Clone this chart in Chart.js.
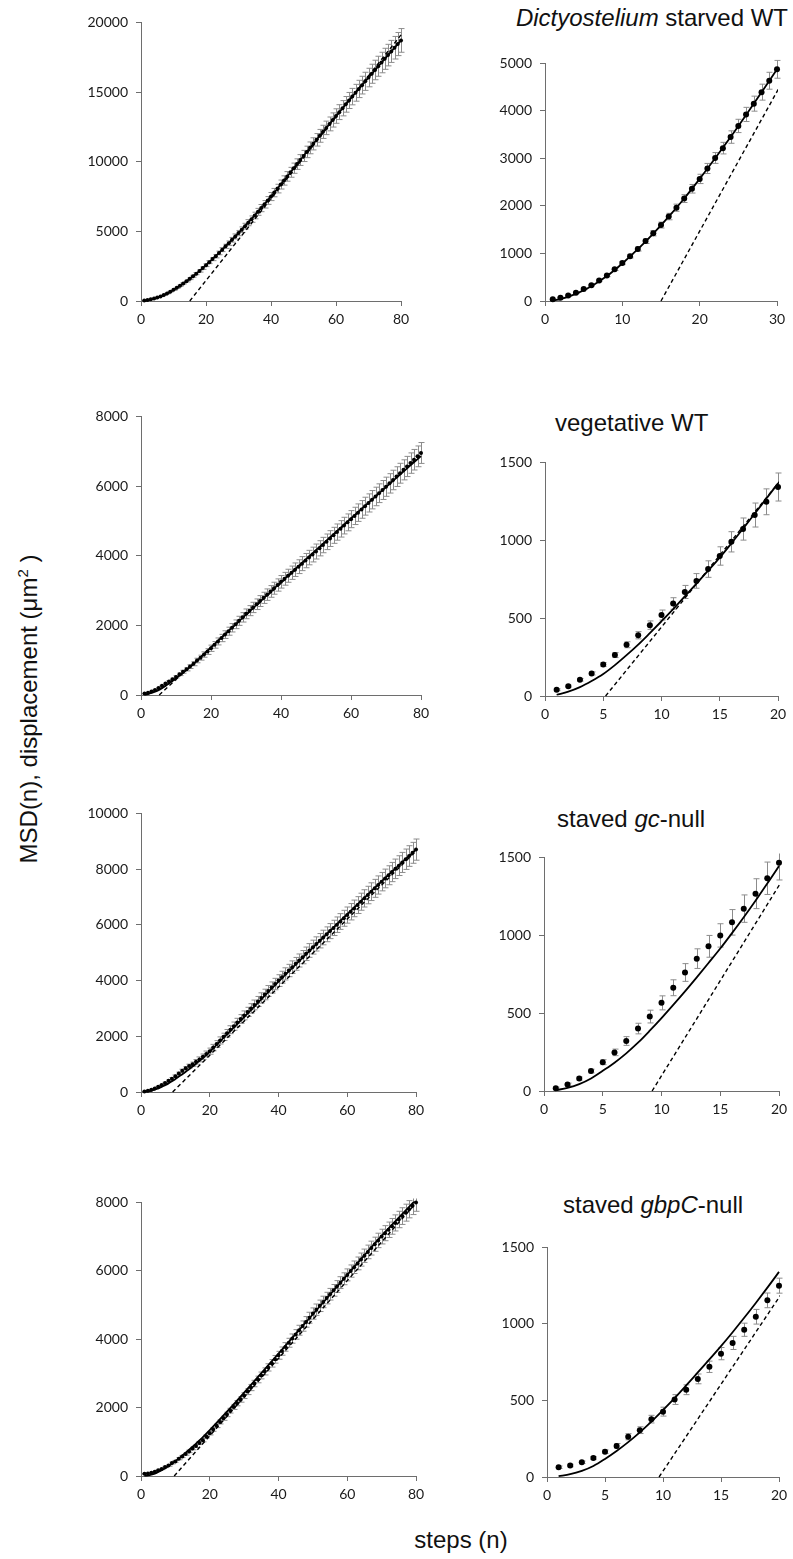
<!DOCTYPE html>
<html lang="en">
<head>
<meta charset="UTF-8">
<title>MSD(n) vs steps</title>
<script src="https://cdn.jsdelivr.net/npm/chart.js"></script>
<style>
    body {
        margin: 0;
        width: 793px;
        height: 1559px;
        position: relative;
        overflow: hidden;
        background: #fff;
        font-family: 'Liberation Sans', Arial, sans-serif;
        color: #111;
    }
    .title {
        position: absolute;
        font-size: 24px;
        line-height: 24px;
        white-space: nowrap;
    }
    .ylabel {
        position: absolute;
        left: 29px;
        top: 709px;
        font-size: 24px;
        line-height: 24px;
        white-space: nowrap;
        transform: translate(-50%, -50%) rotate(-90deg);
    }
    .ylabel sup { font-size: 15px; line-height: 0; vertical-align: 9px; }
    .xlabel {
        position: absolute;
        top: 1528px;
        left: 461px;
        font-size: 24px;
        line-height: 24px;
        white-space: nowrap;
        transform: translateX(-50%);
    }
</style>
</head>
<body>

<div class="title" style="right:5px; top:6px;"><i>Dictyostelium</i> starved WT</div>
<div class="title" style="left:555px; top:411px;">vegetative WT</div>
<div class="title" style="left:557px; top:807px;">staved <i>gc</i>-null</div>
<div class="title" style="left:563px; top:1193px;">staved <i>gbpC</i>-null</div>
<div class="ylabel">MSD(n), displacement (μm<sup>2</sup> )</div>
<div class="xlabel">steps (n)</div>

<script>
    // tick values
    const xTicksLong = [0, 20, 40, 60, 80];
    const xTicks30 = [0, 10, 20, 30];
    const xTicks20 = [0, 5, 10, 15, 20];
    const yTicksStarvedLong = [0, 5000, 10000, 15000, 20000];
    const yTicksStarvedShort = [0, 1000, 2000, 3000, 4000, 5000];
    const yTicks8000 = [0, 2000, 4000, 6000, 8000];
    const yTicks10000 = [0, 2000, 4000, 6000, 8000, 10000];
    const yTicks1500 = [0, 500, 1000, 1500];

    // MSD for steps n = 1..80 (um^2)
    const msdStarved = [35, 68, 118, 172, 254, 330, 434, 537, 668, 799,
        944, 1095, 1260, 1426, 1598, 1777, 1963, 2155, 2362, 2569,
        2789, 3010, 3217, 3450, 3684, 3926, 4153, 4395, 4635, 4876,
        5121, 5369, 5621, 5877, 6137, 6401, 6669, 6941, 7217, 7497,
        7782, 8070, 8360, 8652, 8945, 9239, 9533, 9827, 10120, 10412,
        10703, 10993, 11282, 11570, 11857, 12143, 12428, 12712, 12995, 13277,
        13558, 13838, 14117, 14395, 14672, 14948, 15223, 15497, 15770, 16042,
        16313, 16583, 16852, 17120, 17387, 17653, 17918, 18182, 18445, 18707];
    const errStarved = [8, 9, 10, 12, 14, 17, 20, 24, 28, 33,
        38, 44, 50, 56, 62, 68, 75, 82, 90, 98,
        106, 114, 122, 131, 140, 149, 158, 168, 178, 188,
        198, 208, 218, 228, 238, 248, 258, 268, 279, 290,
        300, 311, 322, 333, 344, 355, 366, 377, 388, 400,
        412, 424, 436, 448, 460, 472, 484, 496, 508, 520,
        534, 548, 562, 576, 590, 605, 620, 635, 650, 665,
        683, 701, 719, 737, 755, 773, 791, 810, 830, 850];
    const fitXStarved = [1, 2, 4, 6, 8, 10, 12, 14, 16, 18, 20, 22, 24, 26, 28, 30, 35, 40, 45, 50, 55, 60, 65, 70, 75, 80];
    const fitYStarved = [10, 40, 150, 310, 525, 790, 1090, 1420, 1775, 2158, 2570, 3003, 3450, 3915, 4392, 4878, 6140, 7490, 8940, 10405, 11855, 13275, 14670, 16040, 17385, 18700];
    const dashXStarved = [15, 80];
    const dashYStarved = [0, 19100];

    const msdVeg = [40, 63, 104, 145, 202, 263, 329, 390, 455, 520,
        594, 668, 739, 815, 899, 990, 1072, 1162, 1247, 1342,
        1440, 1538, 1636, 1734, 1832, 1930, 2030, 2130, 2230, 2330,
        2422, 2514, 2606, 2698, 2790, 2882, 2974, 3066, 3158, 3250,
        3337, 3424, 3511, 3598, 3685, 3772, 3859, 3946, 4033, 4120,
        4213, 4306, 4399, 4492, 4585, 4678, 4771, 4864, 4957, 5050,
        5143, 5236, 5329, 5422, 5515, 5608, 5701, 5794, 5887, 5980,
        6077, 6174, 6271, 6368, 6465, 6562, 6659, 6756, 6853, 6950];
    const errVeg = [6, 7, 8, 10, 13, 16, 19, 23, 27, 32,
        37, 42, 47, 53, 59, 65, 71, 77, 83, 90,
        95, 100, 105, 110, 115, 120, 125, 130, 135, 140,
        144, 148, 152, 156, 160, 164, 168, 172, 176, 180,
        184, 187, 191, 194, 198, 201, 205, 208, 212, 215,
        218, 221, 224, 227, 230, 233, 236, 239, 242, 245,
        248, 251, 254, 257, 260, 263, 266, 269, 272, 275,
        278, 280, 283, 285, 288, 290, 293, 295, 298, 300];
    const fitXVeg = [1, 2, 3, 4, 5, 6, 7, 8, 9, 10, 11, 12, 13, 14, 15, 16, 17, 18, 19, 20, 30, 40, 50, 60, 70, 80];
    const fitYVeg = [8, 28, 57, 96, 141, 198, 262, 330, 404, 480, 558, 640, 722, 805, 889, 980, 1075, 1170, 1268, 1365, 2310, 3240, 4160, 5070, 5970, 6860];
    const dashXVeg = [5.2, 80];
    const dashYVeg = [0, 6900];

    const msdGc = [17, 42, 80, 128, 185, 248, 321, 401, 478, 566,
        663, 761, 850, 929, 999, 1083, 1171, 1267, 1366, 1465,
        1593, 1722, 1850, 1979, 2107, 2236, 2364, 2493, 2621, 2750,
        2875, 3000, 3125, 3250, 3375, 3500, 3625, 3750, 3875, 4000,
        4120, 4240, 4360, 4480, 4600, 4720, 4840, 4960, 5080, 5200,
        5315, 5430, 5545, 5660, 5775, 5890, 6005, 6120, 6235, 6350,
        6470, 6590, 6710, 6830, 6950, 7070, 7190, 7310, 7430, 7550,
        7665, 7780, 7895, 8010, 8125, 8240, 8355, 8470, 8585, 8700];
    const errGc = [8, 9, 10, 12, 16, 21, 28, 34, 41, 45,
        51, 57, 63, 70, 75, 82, 88, 96, 104, 110,
        116, 122, 127, 132, 137, 142, 147, 152, 156, 160,
        165, 170, 175, 180, 185, 190, 195, 200, 205, 210,
        214, 218, 222, 226, 230, 234, 238, 242, 246, 250,
        254, 258, 262, 266, 270, 274, 278, 282, 286, 290,
        294, 298, 302, 306, 310, 314, 318, 322, 326, 330,
        335, 340, 345, 350, 355, 360, 365, 370, 375, 380];
    const fitXGc = [1, 2, 3, 4, 5, 6, 7, 8, 9, 10, 11, 12, 13, 14, 15, 16, 17, 18, 19, 20, 25, 30, 40, 50, 60, 70, 80];
    const fitYGc = [5, 20, 44, 80, 130, 182, 242, 310, 387, 468, 553, 640, 730, 822, 915, 1014, 1116, 1222, 1332, 1445, 2065, 2690, 3960, 5180, 6380, 7560, 8700];
    const dashXGc = [9.2, 80];
    const dashYGc = [0, 8650];

    const msdGbpc = [64, 75, 96, 124, 165, 203, 263, 306, 378, 427,
        506, 570, 641, 720, 806, 876, 962, 1047, 1154, 1250,
        1360, 1470, 1580, 1690, 1800, 1910, 2020, 2130, 2240, 2350,
        2468, 2586, 2704, 2822, 2940, 3058, 3176, 3294, 3412, 3530,
        3652, 3774, 3896, 4018, 4140, 4262, 4384, 4506, 4628, 4750,
        4863, 4976, 5089, 5202, 5315, 5428, 5541, 5654, 5767, 5880,
        5992, 6104, 6216, 6328, 6440, 6552, 6664, 6776, 6888, 7000,
        7100, 7200, 7300, 7400, 7500, 7600, 7700, 7800, 7900, 8000];
    const errGbpc = [8, 8, 8, 10, 12, 16, 20, 22, 25, 29,
        32, 32, 32, 37, 40, 43, 43, 48, 48, 49,
        52, 55, 58, 61, 65, 69, 73, 77, 81, 85,
        88, 91, 94, 97, 100, 103, 106, 109, 112, 115,
        120, 125, 130, 135, 140, 145, 150, 155, 160, 165,
        166, 167, 168, 169, 170, 171, 172, 173, 174, 175,
        179, 183, 187, 191, 195, 199, 203, 207, 211, 215,
        220, 225, 230, 235, 240, 244, 248, 252, 256, 260];
    const fitXGbpc = [1, 2, 3, 4, 5, 6, 7, 8, 9, 10, 11, 12, 13, 14, 15, 16, 17, 18, 19, 20, 25, 30, 40, 50, 60, 70, 80];
    const fitYGbpc = [5, 18, 40, 72, 118, 170, 228, 292, 362, 437, 515, 598, 683, 768, 855, 946, 1040, 1137, 1237, 1340, 1880, 2440, 3580, 4730, 5880, 7020, 8080];
    const dashXGbpc = [9.66, 80];
    const dashYGbpc = [0, 7980];

    // plot-area boxes [left, top, right, bottom] in page pixels
    const Y_W = 70, X_H = 34, PAD_T = 12, PAD_R = 14;
    const panels = [
        { box: [141, 18, 401, 301], n: 80, xTicks: xTicksLong, yTicks: yTicksStarvedLong, msd: msdStarved, err: errStarved, fx: fitXStarved, fy: fitYStarved, dx: dashXStarved, dy: dashYStarved, r: 2 },
        { box: [545, 59, 777, 301], n: 30, xTicks: xTicks30, yTicks: yTicksStarvedShort, msd: msdStarved, err: errStarved, fx: fitXStarved, fy: fitYStarved, dx: dashXStarved, dy: dashYStarved, r: 3 },
        { box: [141, 412, 421, 695], n: 80, xTicks: xTicksLong, yTicks: yTicks8000, msd: msdVeg, err: errVeg, fx: fitXVeg, fy: fitYVeg, dx: dashXVeg, dy: dashYVeg, r: 2 },
        { box: [545, 458, 778, 696], n: 20, xTicks: xTicks20, yTicks: yTicks1500, msd: msdVeg, err: errVeg, fx: fitXVeg, fy: fitYVeg, dx: dashXVeg, dy: dashYVeg, r: 3 },
        { box: [141, 809, 416, 1092], n: 80, xTicks: xTicksLong, yTicks: yTicks10000, msd: msdGc, err: errGc, fx: fitXGc, fy: fitYGc, dx: dashXGc, dy: dashYGc, r: 2 },
        { box: [544, 853, 779, 1091], n: 20, xTicks: xTicks20, yTicks: yTicks1500, msd: msdGc, err: errGc, fx: fitXGc, fy: fitYGc, dx: dashXGc, dy: dashYGc, r: 3 },
        { box: [141, 1198, 416, 1476], n: 80, xTicks: xTicksLong, yTicks: yTicks8000, msd: msdGbpc, err: errGbpc, fx: fitXGbpc, fy: fitYGbpc, dx: dashXGbpc, dy: dashYGbpc, r: 2 },
        { box: [547, 1243, 779, 1477], n: 20, xTicks: xTicks20, yTicks: yTicks1500, msd: msdGbpc, err: errGbpc, fx: fitXGbpc, fy: fitYGbpc, dx: dashXGbpc, dy: dashYGbpc, r: 3 }
    ];

    // grey error bars with caps, drawn under the points
    const errorBars = {
        id: 'errorBars',
        beforeDatasetsDraw(chart) {
            const ds = chart.data.datasets[0];
            if (!ds.errors) return;
            const { ctx, chartArea: a, scales: { x, y } } = chart;
            ctx.save();
            ctx.beginPath();
            ctx.rect(a.left - 6, a.top - 4, a.right - a.left + 12, a.bottom - a.top + 4);
            ctx.clip();
            ctx.strokeStyle = '#8c8c8c';
            ctx.lineWidth = 1;
            ds.data.forEach((pt, i) => {
                const e = ds.errors[i];
                const px = Math.round(x.getPixelForValue(pt.x)) + 0.5;
                const top = y.getPixelForValue(pt.y + e);
                const bot = y.getPixelForValue(pt.y - e);
                ctx.beginPath();
                ctx.moveTo(px, top); ctx.lineTo(px, bot);
                ctx.moveTo(px - 3, top); ctx.lineTo(px + 3, top);
                ctx.moveTo(px - 3, bot); ctx.lineTo(px + 3, bot);
                ctx.stroke();
            });
            ctx.restore();
        }
    };

    function axis(ticks, isX) {
        return {
            type: 'linear',
            min: ticks[0],
            max: ticks[ticks.length - 1],
            afterBuildTicks: s => { s.ticks = ticks.map(v => ({ value: v })); },
            afterFit: s => { if (isX) s.height = X_H; else s.width = Y_W; },
            grid: { drawOnChartArea: false, drawTicks: true, tickLength: 5, color: '#6e6e6e', tickColor: '#6e6e6e' },
            border: { display: true, color: '#6e6e6e', width: 1 },
            ticks: {
                color: '#1a1a1a',
                font: { family: 'Lato', size: 14 },
                padding: isX ? 5 : 8,
                maxRotation: 0,
                autoSkip: false,
                callback: v => String(v)
            }
        };
    }

    panels.forEach(p => {
        const [L, T, R, B] = p.box;
        const w = R - L + Y_W + PAD_R;
        const h = B - T + PAD_T + X_H;
        const cv = document.createElement('canvas');
        cv.width = w;
        cv.height = h;
        cv.style.cssText = `position:absolute;left:${L - Y_W}px;top:${T - PAD_T}px;width:${w}px;height:${h}px;`;
        document.body.appendChild(cv);

        const points = p.msd.slice(0, p.n).map((v, i) => ({ x: i + 1, y: v }));
        const fit = p.fx.map((v, i) => ({ x: v, y: p.fy[i] }));
        const dash = p.dx.map((v, i) => ({ x: v, y: p.dy[i] }));

        new Chart(cv, {
            type: 'scatter',
            data: {
                datasets: [
                    {
                        data: points,
                        errors: p.err.slice(0, p.n),
                        pointRadius: p.r,
                        pointBackgroundColor: '#000',
                        pointBorderWidth: 0,
                        clip: 8
                    },
                    {
                        data: fit,
                        showLine: true,
                        borderColor: '#000',
                        borderWidth: 1.8,
                        pointRadius: 0,
                        cubicInterpolationMode: 'monotone',
                        clip: 1
                    },
                    {
                        data: dash,
                        showLine: true,
                        borderColor: '#000',
                        borderWidth: 1.4,
                        borderDash: [4, 3],
                        pointRadius: 0,
                        clip: 1
                    }
                ]
            },
            options: {
                responsive: false,
                animation: false,
                layout: { padding: { top: PAD_T, right: PAD_R, left: 0, bottom: 0 } },
                scales: {
                    x: axis(p.xTicks, true),
                    y: axis(p.yTicks, false)
                },
                plugins: {
                    legend: { display: false },
                    tooltip: { enabled: false }
                }
            },
            plugins: [errorBars]
        });
    });
</script>

</body>
</html>
